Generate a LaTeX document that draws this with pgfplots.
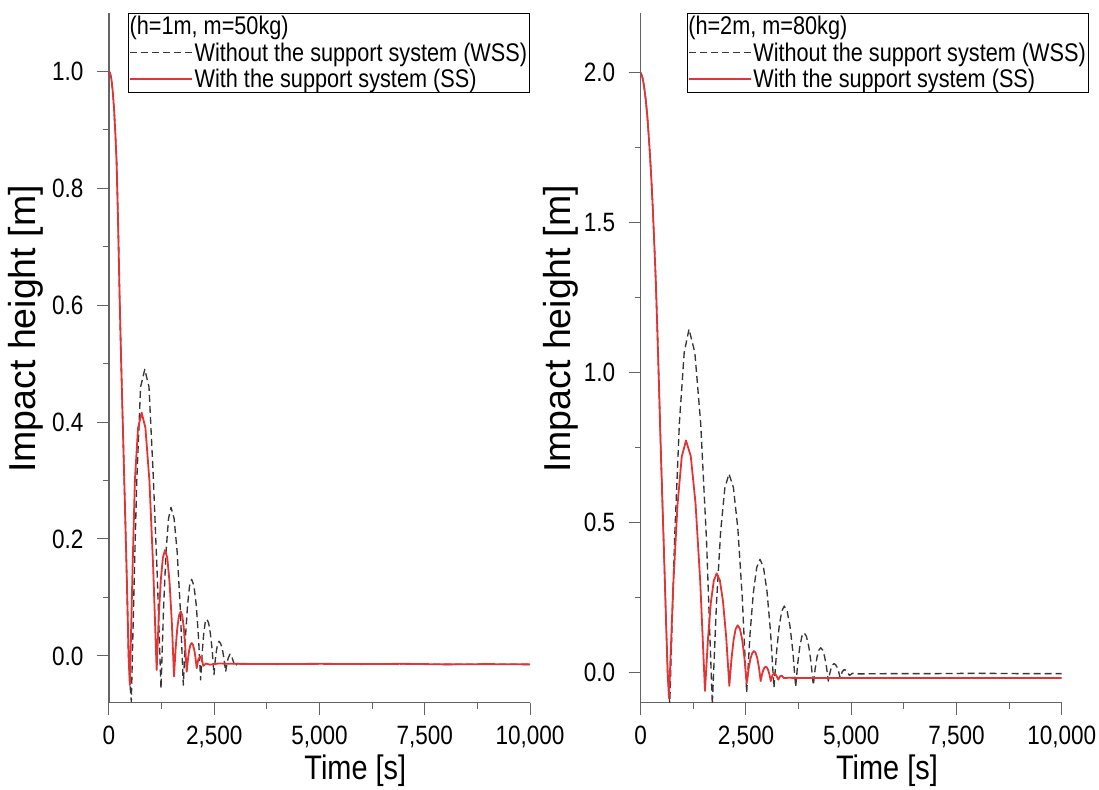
\documentclass[border=0pt]{standalone}
\usepackage{pgfplots}
\pgfplotsset{compat=1.18}
\usepackage{fontspec}
\setmainfont{Liberation Sans}[FakeStretch=0.85]
\newfontfamily\ylabfont{Liberation Sans}
\definecolor{ssred}{RGB}{226,52,52}
\definecolor{wssgray}{RGB}{55,55,55}
\definecolor{axgray}{RGB}{100,100,100}
\pgfplotsset{
  panel/.style={
    scale only axis, width=421pt, height=690pt,
    xmin=0, xmax=10000,
    axis x line*=bottom, axis y line*=left,
    axis line style={draw=axgray, line width=1.1pt},
    tick style={draw=axgray, line width=1pt},
    tick align=outside,
    major tick length=12pt, minor tick length=6pt,
    xtick={0,2500,5000,7500,10000}, minor x tick num=1,
    minor y tick num=1,
    scaled x ticks=false, scaled y ticks=false,
    tick label style={font=\fontsize{26.5}{28}\selectfont},
    xticklabel style={yshift=-8pt, /pgf/number format/fixed, /pgf/number format/1000 sep={,}, /pgf/number format/assume math mode=true},
    yticklabel style={xshift=-10pt, /pgf/number format/fixed, /pgf/number format/fixed zerofill, /pgf/number format/precision=1, /pgf/number format/assume math mode=true},
    xlabel={Time [s]},
    xlabel style={font=\fontsize{34}{36}\selectfont, at={(axis description cs:0.585,0)}, anchor=base, yshift=-77pt},
    ylabel={Impact height [m]},
    ylabel style={font=\ylabfont\fontsize{37.5}{40}\selectfont, anchor=center},
    legend cell align=left,
    legend style={draw=black, line width=0.8pt, font=\fontsize{25.5}{27}\selectfont,
      inner xsep=1pt, inner ysep=0pt, row sep=0pt,
      nodes={inner xsep=1.5pt, inner ysep=3.2pt}},
    legend image code/.code={\draw[#1] (0pt,0pt) -- (62pt,0pt);},
  },
  wss/.style={color=wssgray, line width=1.35pt, dash pattern=on 7pt off 4pt, line join=round},
  ss/.style={color=ssred, line width=1.8pt, line join=round},
}
\begin{document}
\begin{tikzpicture}
\path[use as bounding box] (-109pt,-86.3pt) rectangle (990pt,702.7pt);
% ---------------- left panel ----------------
\begin{axis}[panel,
  ymin=-0.08, ymax=1.1,
  ytick={0,0.2,0.4,0.6,0.8,1.0},
  ylabel style={at={(axis description cs:-0.197,0.5416)}},
  legend style={at={(axis description cs:0.045,1)}, anchor=north west},
]
\addlegendimage{empty legend}
\addlegendentry{\hspace*{-65pt}(h=1m, m=50kg)}
\addplot[wss] coordinates {
(0,1.000)(30,0.996)(60,0.985)(90,0.965)(120,0.935)(150,0.895)(180,0.845)(215,0.745)(250,0.620)(290,0.500)(330,0.390)(370,0.280)(410,0.170)(440,0.080)(465,0.000)(500,-0.050)(530,-0.078)
(605,0.150)(660,0.300)(750,0.460)(850,0.490)(950,0.460)(1050,0.310)(1145,0.140)(1235,-0.056)
(1295,0.080)(1354,0.177)(1414,0.235)(1473,0.254)(1546,0.235)(1619,0.178)(1692,0.083)(1765,-0.050)
(1815,0.030)(1865,0.086)(1914,0.120)(1964,0.131)(2017,0.120)(2071,0.088)(2124,0.034)(2177,-0.041)
(2213,0.005)(2249,0.037)(2284,0.057)(2320,0.063)(2364,0.057)(2407,0.039)(2451,0.010)(2494,-0.032)
(2524,-0.007)(2554,0.010)(2583,0.021)(2613,0.025)(2653,0.021)(2692,0.012)(2732,-0.005)(2771,-0.027)
(2800,-0.014)(2830,-0.004)(2874,0.003)(2920,-0.002)(2955,-0.010)(2990,-0.018)(3050,-0.013)(3150,-0.014)
(4000,-0.014)(5000,-0.0135)(6000,-0.014)(7000,-0.0135)(8000,-0.0145)(9000,-0.014)(10000,-0.0145)
};
\addlegendentry{Without the support system (WSS)}
\addplot[ss] coordinates {
(0,1.000)(30,0.996)(60,0.985)(90,0.965)(120,0.935)(150,0.895)(180,0.845)(215,0.745)(250,0.620)(290,0.500)(330,0.390)(370,0.280)(410,0.170)(440,0.080)(465,0.000)(495,-0.050)
(560,0.150)(615,0.300)(690,0.390)(776,0.416)(865,0.390)(960,0.300)(1050,0.150)(1132,-0.024)
(1181,0.066)(1231,0.130)(1280,0.168)(1330,0.181)(1384,0.168)(1437,0.127)(1491,0.060)(1544,-0.035)
(1584,0.014)(1623,0.048)(1663,0.069)(1702,0.076)(1738,0.070)(1774,0.050)(1809,0.018)(1845,-0.027)
(1875,-0.006)(1905,0.010)(1934,0.019)(1964,0.022)(1994,0.019)(2024,0.011)(2053,-0.002)(2083,-0.021)
(2122,-0.006)(2162,-0.001)(2201,-0.005)(2240,-0.017)(2300,-0.013)(2400,-0.015)(2600,-0.013)(3000,-0.0135)
(4000,-0.014)(5000,-0.0135)(6000,-0.014)(7000,-0.0135)(8000,-0.0145)(9000,-0.014)(10000,-0.0145)
};
\addlegendentry{With the support system (SS)\rule[-20pt]{0pt}{1pt}}
\end{axis}
% ---------------- right panel ----------------
\begin{axis}[panel, xshift=531.7pt,
  ymin=-0.1, ymax=2.2,
  ytick={0,0.5,1.0,1.5,2.0},
  ylabel style={at={(axis description cs:-0.19,0.5416)}},
  legend style={at={(axis description cs:0.109,1)}, anchor=north west},
]
\addlegendimage{empty legend}
\addlegendentry{\hspace*{-65pt}(h=2m, m=80kg)}
\addplot[wss] coordinates {
(0,2.000)(40,1.985)(80,1.955)(120,1.910)(160,1.850)(200,1.770)(240,1.680)(280,1.570)(320,1.440)(360,1.300)(400,1.120)(440,0.930)(480,0.730)(520,0.550)(560,0.370)(600,0.180)(640,0.000)(690,-0.105)
(804,0.442)(919,0.833)(1033,1.067)(1147,1.145)(1286,1.067)(1424,0.833)(1563,0.442)(1701,-0.105)
(1800,0.231)(1899,0.471)(1998,0.615)(2097,0.663)(2202,0.617)(2307,0.481)(2412,0.252)(2517,-0.067)
(2596,0.128)(2676,0.267)(2755,0.350)(2834,0.378)(2917,0.351)(3000,0.271)(3083,0.137)(3166,-0.050)
(3227,0.069)(3289,0.154)(3350,0.205)(3411,0.222)(3479,0.205)(3546,0.155)(3614,0.071)(3681,-0.047)
(3731,0.032)(3780,0.088)(3830,0.122)(3879,0.133)(3934,0.122)(3990,0.089)(4045,0.035)(4100,-0.042)
(4144,0.013)(4188,0.052)(4231,0.075)(4275,0.083)(4320,0.076)(4366,0.055)(4411,0.021)(4456,-0.028)
(4490,-0.003)(4524,0.016)(4557,0.026)(4591,0.030)(4628,0.027)(4664,0.018)(4701,0.004)(4737,-0.017)
(4790,0.004)(4840,0.011)(4900,0.003)(4960,-0.009)(5030,-0.002)(5100,-0.004)
(6000,-0.003)(7000,-0.003)(8000,-0.002)(9000,-0.003)(10000,-0.003)
};
\addlegendentry{Without the support system (WSS)}
\addplot[ss] coordinates {
(0,2.000)(40,1.985)(80,1.955)(120,1.910)(160,1.850)(200,1.770)(240,1.680)(280,1.570)(320,1.440)(360,1.300)(400,1.120)(440,0.930)(480,0.730)(520,0.550)(560,0.370)(600,0.180)(640,0.000)(672,-0.085)
(773,0.291)(874,0.559)(975,0.720)(1076,0.774)(1189,0.722)(1302,0.565)(1414,0.304)(1527,-0.061)
(1597,0.111)(1666,0.233)(1736,0.307)(1805,0.331)(1880,0.308)(1955,0.237)(2030,0.120)(2105,-0.044)
(2155,0.044)(2205,0.108)(2254,0.145)(2304,0.158)(2357,0.146)(2411,0.110)(2464,0.049)(2517,-0.036)
(2561,0.011)(2604,0.045)(2648,0.065)(2691,0.072)(2731,0.066)(2771,0.047)(2810,0.016)(2850,-0.028)
(2880,-0.007)(2910,0.008)(2939,0.017)(2969,0.020)(2999,0.017)(3030,0.008)(3060,-0.007)(3090,-0.028)
(3130,-0.008)(3174,-0.002)(3220,-0.009)(3270,-0.023)(3310,-0.012)(3350,-0.010)(3400,-0.018)(3500,-0.017)
(4000,-0.018)(5000,-0.0175)(6000,-0.018)(7000,-0.0175)(8000,-0.018)(9000,-0.0175)(10000,-0.018)
};
\addlegendentry{With the support system (SS)\rule[-20pt]{0pt}{1pt}}
\end{axis}
\end{tikzpicture}
\end{document}
